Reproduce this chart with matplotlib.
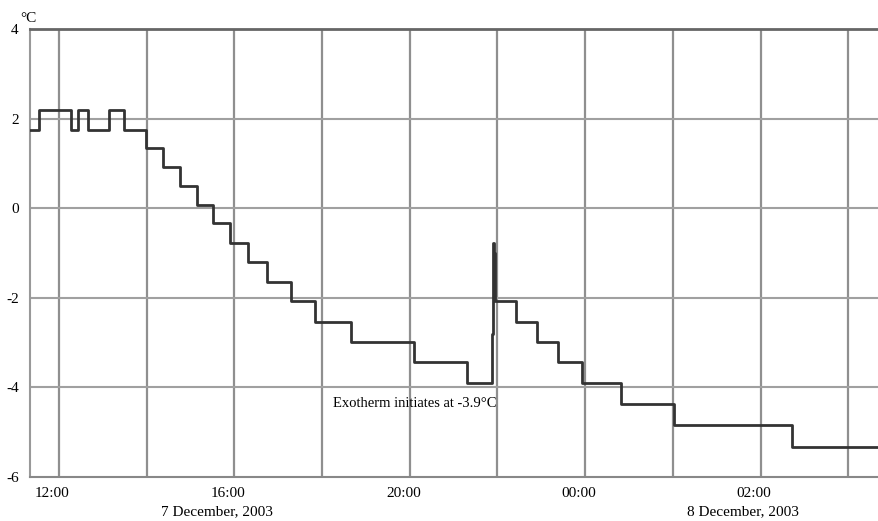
import numpy as np
import matplotlib.pyplot as plt
from matplotlib.transforms import ScaledTranslation

# time in grid steps from the 12:00 line, temperature in degC (step changes)
t = [-0.331, -0.225, 0.133, 0.220, 0.327, 0.570, 0.745, 0.989, 1.189, 1.380,
     1.577, 1.759, 1.950, 2.152, 2.368, 2.645, 2.919, 3.330, 4.051, 4.649,
     4.934, 4.949, 4.956, 4.963, 4.970, 4.977, 5.210, 5.447, 5.693, 5.960,
     6.405, 7.016, 8.361, 9.35]
temp = [1.75, 2.2, 1.75, 2.2, 1.75, 2.2, 1.75, 1.35, 0.92, 0.50,
        0.08, -0.33, -0.77, -1.20, -1.64, -2.08, -2.53, -2.98, -3.44, -3.90,
        -2.80, -0.78, -1.6, -1.0, -1.7, -2.07, -2.53, -2.98, -3.44, -3.90,
        -4.37, -4.84, -5.32, -5.32]

tick_pos = [0, 2, 4, 6, 8]
tick_labels = ["12:00", "16:00", "20:00", "00:00", "02:00"]
yticks = [4, 2, 0, -2, -4, -6]
dates = ["7 December, 2003", "8 December, 2003"]
date_pos = [1.8, 7.8]

plt.rcParams['font.family'] = ['Liberation Serif', 'DejaVu Serif']

fig = plt.figure(figsize=(8.79, 5.21), dpi=100)
ax = fig.add_axes([0.0341, 0.0845, 0.9659, 0.8595])

ax.plot(t, temp, drawstyle='steps-post', color='#333333', lw=2.0, zorder=3)

ax.set_xlim(-0.33, 9.35)
ax.set_ylim(-6, 4)

for gx in range(0, 10):
    ax.axvline(gx, color='#8f8f8f', lw=1.6, zorder=1)
for gy in [-4, -2, 0, 2]:
    ax.axhline(gy, color='#a0a0a0', lw=1.5, zorder=1)

ax.set_xticks(tick_pos)
ax.set_xticklabels(tick_labels, fontsize=11)
ax.set_yticks(yticks)
ax.set_yticklabels([str(v) for v in yticks], fontsize=11)
ax.tick_params(length=0, pad=7)
off = ScaledTranslation(-6.5 / 100, 0, fig.dpi_scale_trans)
for lab in ax.get_xticklabels():
    lab.set_transform(lab.get_transform() + off)
ax.tick_params(axis='y', pad=8)

ax.spines['right'].set_visible(False)
ax.spines['top'].set_color('#666666')
ax.spines['top'].set_linewidth(2)
ax.spines['left'].set_color('#999999')
ax.spines['left'].set_linewidth(1.5)
ax.spines['bottom'].set_color('#888888')
ax.spines['bottom'].set_linewidth(1.5)

fig.text(28 / 879, 1 - 18 / 521, "°C", fontsize=11, ha='center', va='center')

for d, p in zip(dates, date_pos):
    ax.annotate(d, xy=(p, 0), xycoords=('data', 'axes fraction'),
                xytext=(0, -25), textcoords='offset points',
                ha='center', va='center', fontsize=11)

ax.text(3.12, -4.35, "Exotherm initiates at -3.9°C", fontsize=10.5,
        ha='left', va='center')

fig.savefig("out.png", dpi=100)
